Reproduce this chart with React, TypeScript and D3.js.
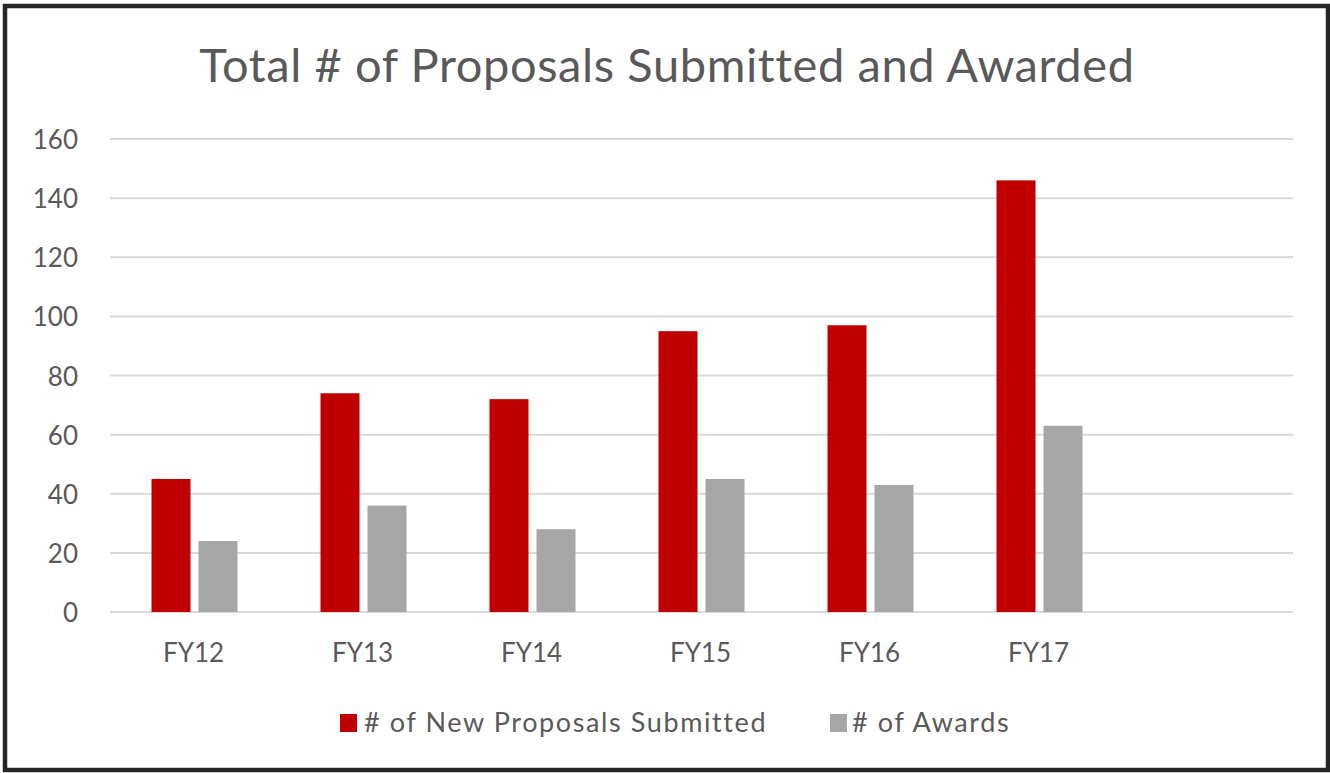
import * as d3 from "d3";

// categories (the last slot is an empty category, as in the source chart)
const categories = ["FY12", "FY13", "FY14", "FY15", "FY16", "FY17", ""];
const submitted = [45, 74, 72, 95, 97, 146];
const awards = [24, 36, 28, 45, 43, 63];
const seriesNames = ["# of New Proposals Submitted", "# of Awards"];
const seriesColors = ["#c00000", "#a6a6a6"];
const yTicks = [0, 20, 40, 60, 80, 100, 120, 140, 160];

const W = 1330;
const H = 773;
const FONT = "Lato, 'Open Sans', sans-serif";
const TEXT = "#595959";

export default function App() {
  const x0 = d3.scaleBand<string>().domain(categories).range([110, 1293]);
  const x1 = d3
    .scaleBand<string>()
    .domain(seriesNames)
    .range([0, 86])
    .paddingInner(0.17);
  const groupOffset = (x0.bandwidth() - 86) / 2;
  const y = d3.scaleLinear().domain([0, 160]).range([612, 139]);

  const series = [submitted, awards];

  return (
    <>
      <style>{`body{margin:0;background:#fff}`}</style>
      <svg width={W} height={H} style={{ display: "block" }}>
        <rect x={0} y={0} width={W} height={H} fill="#fff" />
        <rect
          x={5}
          y={6}
          width={1323}
          height={764}
          fill="#fff"
          stroke="#262626"
          strokeWidth={4.5}
        />

        <text
          x={667}
          y={82}
          textAnchor="middle"
          fill={TEXT}
          fontFamily={FONT}
          fontSize={47}
          letterSpacing={0.6}
        >
          Total # of Proposals Submitted and Awarded
        </text>

        {/* gridlines + y tick labels */}
        {yTicks.map((t) => (
          <g key={t}>
            <line
              x1={110}
              x2={1293}
              y1={y(t)}
              y2={y(t)}
              stroke="#d9d9d9"
              strokeWidth={2}
            />
            <text
              x={78}
              y={y(t) + 10}
              textAnchor="end"
              fill={TEXT}
              fontFamily={FONT}
              fontSize={26}
            >
              {t}
            </text>
          </g>
        ))}

        {/* bars */}
        {series.map((vals, si) =>
          vals.map((v, i) => (
            <rect
              key={si + "-" + i}
              x={x0(categories[i])! + groupOffset + x1(seriesNames[si])!}
              y={y(v)}
              width={x1.bandwidth()}
              height={y(0) - y(v)}
              fill={seriesColors[si]}
            />
          ))
        )}

        {/* x labels */}
        {categories.map((c) => (
          <text
            key={"x" + c}
            x={x0(c)! + x0.bandwidth() / 2 - 1}
            y={662}
            textAnchor="middle"
            fill={TEXT}
            fontFamily={FONT}
            fontSize={26}
          >
            {c}
          </text>
        ))}

        {/* legend */}
        {[
          { x: 340, tx: 364 },
          { x: 830, tx: 852 },
        ].map((p, i) => (
          <g key={"lg" + i}>
            <rect x={p.x} y={714} width={17} height={18} fill={seriesColors[i]} />
            <text
              x={p.tx}
              y={732}
              fill={TEXT}
              fontFamily={FONT}
              fontSize={27}
              letterSpacing={1.6}
            >
              {seriesNames[i]}
            </text>
          </g>
        ))}
      </svg>
    </>
  );
}
